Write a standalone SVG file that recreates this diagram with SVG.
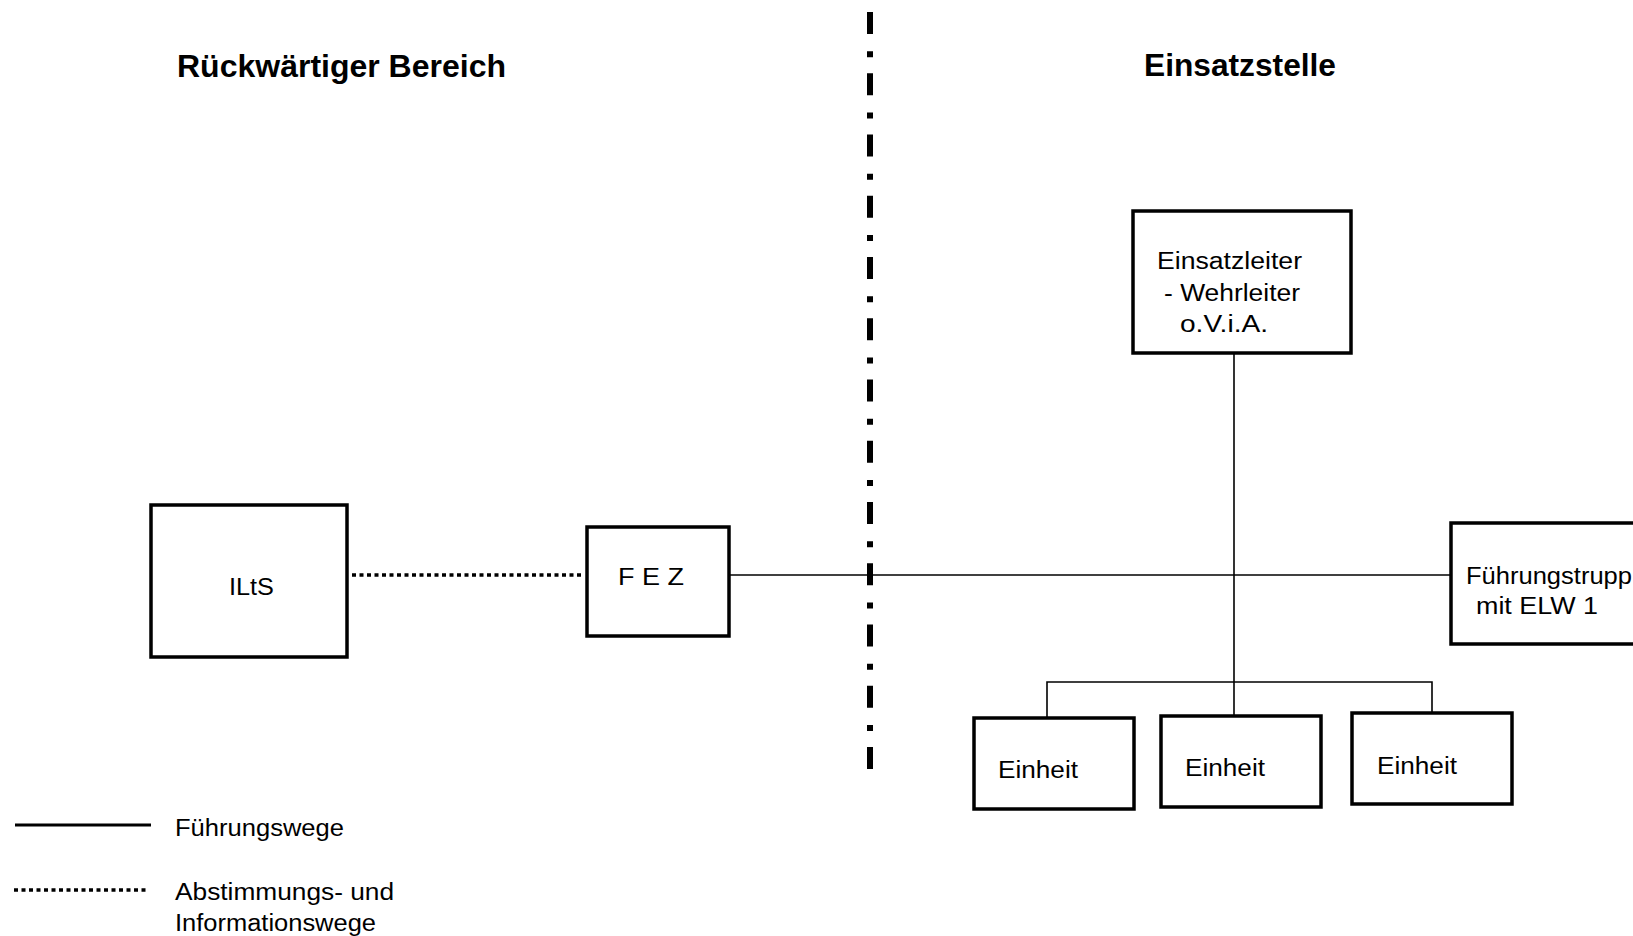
<svg xmlns="http://www.w3.org/2000/svg" width="1633" height="936" viewBox="0 0 1633 936">
<style>
text{font-family:"Liberation Sans",Arial,sans-serif;fill:#000}
.t{font-size:23px}
.h{font-size:31px;font-weight:bold}
.box{fill:#fff;stroke:#000;stroke-width:3.5}
.solid{fill:none;stroke:#000;stroke-width:1.6}
.dot{fill:none;stroke:#000;stroke-width:3.5;stroke-dasharray:4 3.5}
</style>
<rect width="1633" height="936" fill="#fff"/>
<g id="titles">
<text class="h" x="177" y="77" textLength="329" lengthAdjust="spacingAndGlyphs">Rückwärtiger Bereich</text>
<text class="h" x="1144" y="76" textLength="192" lengthAdjust="spacingAndGlyphs">Einsatzstelle</text>
</g>
<g id="divider">
<line x1="870" y1="12" x2="870" y2="769" stroke="#000" stroke-width="6" stroke-dasharray="22 17.25 6 16"/>
</g>
<g id="connectors">
<line class="dot" x1="352" y1="575" x2="584" y2="575"/>
<line class="solid" x1="729" y1="575" x2="1451" y2="575"/>
<line class="solid" x1="1234" y1="353" x2="1234" y2="716"/>
<polyline class="solid" points="1047,718 1047,682 1432,682 1432,713"/>
</g>
<g id="node-ilts">
<rect class="box" x="151" y="505" width="196" height="152"/>
<text class="t" x="229" y="595" textLength="45" lengthAdjust="spacingAndGlyphs">ILtS</text>
</g>
<g id="node-fez">
<rect class="box" x="587" y="527" width="142" height="109"/>
<text class="t" x="618" y="585" textLength="66" lengthAdjust="spacingAndGlyphs">F E Z</text>
</g>
<g id="node-einsatzleiter">
<rect class="box" x="1133" y="211" width="218" height="142"/>
<text class="t" x="1157" y="269" textLength="145" lengthAdjust="spacingAndGlyphs">Einsatzleiter</text>
<text class="t" x="1164" y="301" textLength="136" lengthAdjust="spacingAndGlyphs">- Wehrleiter</text>
<text class="t" x="1180" y="332" textLength="88" lengthAdjust="spacingAndGlyphs">o.V.i.A.</text>
</g>
<g id="node-fuehrungstrupp">
<rect class="box" x="1451" y="523" width="220" height="121"/>
<text class="t" x="1466" y="584" textLength="166" lengthAdjust="spacingAndGlyphs">Führungstrupp</text>
<text class="t" x="1476" y="614" textLength="122" lengthAdjust="spacingAndGlyphs">mit ELW 1</text>
</g>
<g id="node-einheit-1">
<rect class="box" x="974" y="718" width="160" height="91"/>
<text class="t" x="998" y="778" textLength="80" lengthAdjust="spacingAndGlyphs">Einheit</text>
</g>
<g id="node-einheit-2">
<rect class="box" x="1161" y="716" width="160" height="91"/>
<text class="t" x="1185" y="776" textLength="80" lengthAdjust="spacingAndGlyphs">Einheit</text>
</g>
<g id="node-einheit-3">
<rect class="box" x="1352" y="713" width="160" height="91"/>
<text class="t" x="1377" y="774" textLength="80" lengthAdjust="spacingAndGlyphs">Einheit</text>
</g>
<g id="legend">
<line x1="15" y1="825" x2="151" y2="825" stroke="#000" stroke-width="3"/>
<text class="t" x="175" y="836" textLength="169" lengthAdjust="spacingAndGlyphs">Führungswege</text>
<line class="dot" x1="14" y1="890" x2="146" y2="890" stroke-width="3"/>
<text class="t" x="175" y="900" textLength="219" lengthAdjust="spacingAndGlyphs">Abstimmungs- und</text>
<text class="t" x="175" y="931" textLength="201" lengthAdjust="spacingAndGlyphs">Informationswege</text>
</g>
</svg>
